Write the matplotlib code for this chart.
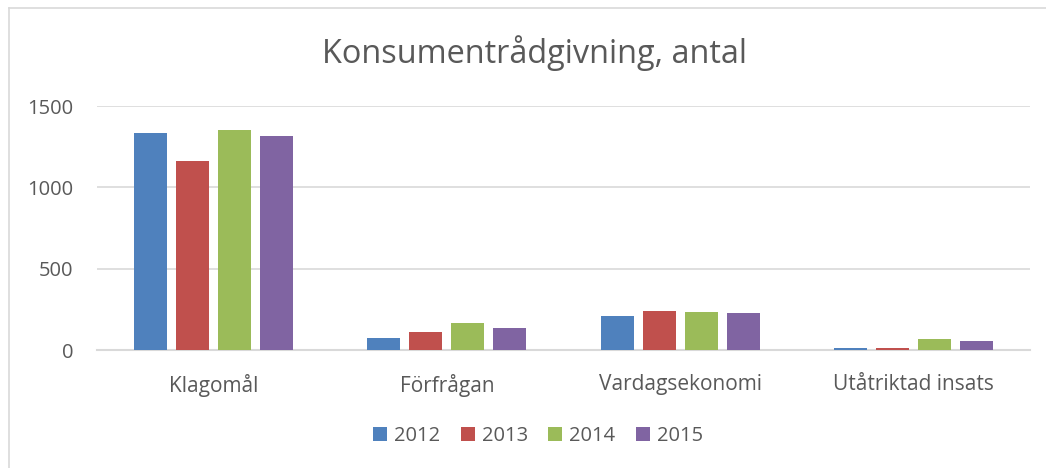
import matplotlib
matplotlib.use("Agg")
import matplotlib.pyplot as plt
import numpy as np
from matplotlib.lines import Line2D
from matplotlib.patches import Patch

categories = ["Klagomål", "Förfrågan", "Vardagsekonomi", "Utåtriktad insats"]
years = ["2012", "2013", "2014", "2015"]
v2012 = [1337, 72, 209, 14]
v2013 = [1160, 109, 237, 13]
v2014 = [1351, 166, 233, 69]
v2015 = [1314, 137, 227, 57]
series = [v2012, v2013, v2014, v2015]
colors = ["#4F81BD", "#C0504D", "#9BBB59", "#8064A2"]
yticks = [0, 500, 1000, 1500]

plt.rcParams['font.family'] = ['Open Sans', 'DejaVu Sans']
txt = "#595959"

fig = plt.figure(figsize=(10.46, 4.68), dpi=100)
ax = fig.add_axes([97/1046, 1-350/468, (1030-97)/1046, (350-106)/468])

x = np.arange(len(categories))
bw = 0.142
step = 0.18
for i, (vals, c) in enumerate(zip(series, colors)):
    ax.bar(x + (i-1.5)*step, vals, width=bw, color=c, label=years[i], zorder=3, linewidth=0)

ax.set_xlim(-0.5, len(categories)-0.5)
ax.set_ylim(0, 1500)
ax.set_yticks(yticks)
ax.set_yticklabels([str(t) for t in yticks], fontsize=14.5, color=txt)
ax.set_xticks(x)
ax.set_xticklabels(categories, fontsize=15, color=txt)
ax.tick_params(axis='both', length=0)
ax.tick_params(axis='y', pad=17)
ax.tick_params(axis='x', pad=17)
ax.grid(axis='y', color='#d9d9d9', linewidth=1.2, zorder=0)
for s in ['top', 'right', 'left']:
    ax.spines[s].set_visible(False)
ax.spines['bottom'].set_color('#d9d9d9')
ax.spines['bottom'].set_linewidth(1.5)
ax.set_axisbelow(True)

fig.text(534/1046, 1-53/468, "Konsumentrådgivning, antal", ha='center', va='center',
         fontsize=23.4, color=txt)

handles = [Patch(facecolor=c, edgecolor='none') for c in colors]
fig.legend(handles, years, loc='center', bbox_to_anchor=(538/1046, 1-436/468), ncol=4,
           frameon=False, fontsize=14.5, handlelength=0.7, handleheight=0.7,
           handletextpad=0.35, columnspacing=1.0, labelcolor=txt)

# chart area border (left and top)
fig.add_artist(Line2D([9/1046, 9/1046], [0, 1-8/468], color='#d9d9d9', linewidth=1.2,
                      transform=fig.transFigure))
fig.add_artist(Line2D([9/1046, 1], [1-8/468, 1-8/468], color='#d9d9d9', linewidth=1.2,
                      transform=fig.transFigure))

fig.savefig("out.png", dpi=100)
